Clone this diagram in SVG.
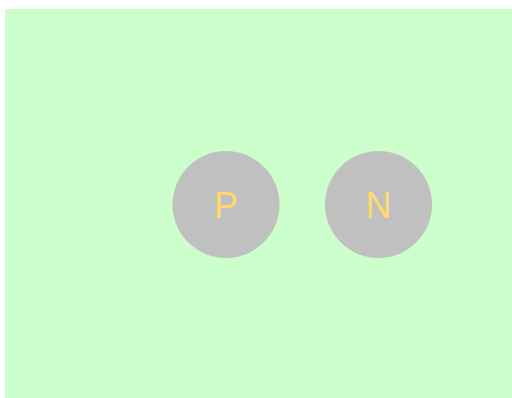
<svg xmlns="http://www.w3.org/2000/svg" width="512" height="398" viewBox="0 0 512 398">
<style>
.node{fill:#c0c0c0}
.lbl{font-family:"Liberation Sans",Arial,sans-serif;font-size:36px;fill:#ffd970;text-anchor:middle}
</style>
<rect x="5" y="9" width="507" height="389" fill="#ccffcc"/>
<g id="connectors"></g>
<g id="P">
<circle class="node" cx="226" cy="204.5" r="53.5"/>
<text class="lbl" x="226" y="218">P</text>
</g>
<g id="N">
<circle class="node" cx="378.5" cy="204.5" r="53.5"/>
<text class="lbl" x="378.5" y="218">N</text>
</g>
</svg>
